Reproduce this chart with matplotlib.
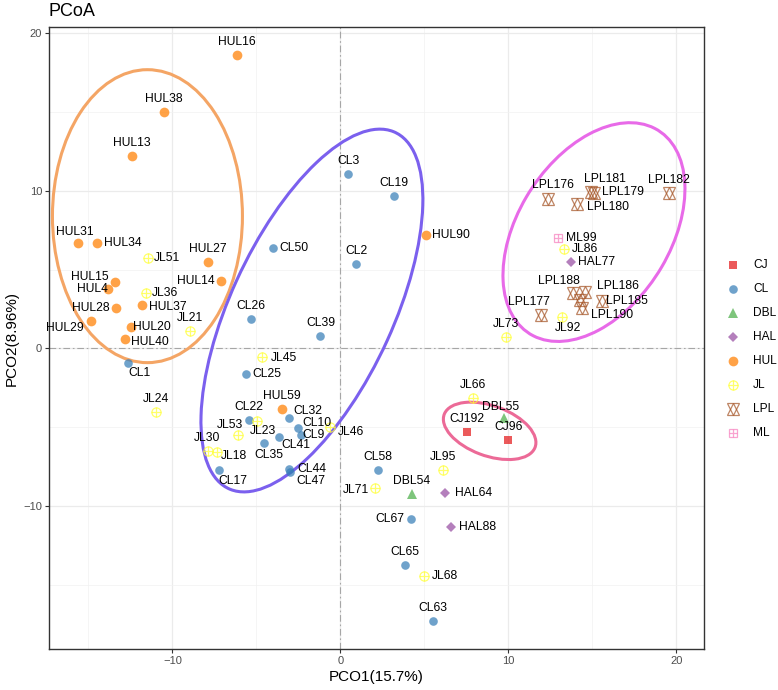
import numpy as np
import matplotlib
matplotlib.use("Agg")
import matplotlib.pyplot as plt
from matplotlib.patches import Ellipse

plt.rcParams['font.family'] = ['Liberation Sans', 'DejaVu Sans']

# ================= DATA =================
names = [
    "HUL16", "HUL38", "HUL13", "HUL31", "HUL34", "HUL27", "HUL15", "HUL4", "HUL14",
    "HUL28", "HUL37", "HUL29", "HUL20", "HUL40", "HUL59", "HUL90",
    "CL1", "CL26", "CL25", "CL39", "CL22", "CL32", "CL10", "CL9", "CL41", "CL35",
    "CL17", "CL44", "CL47", "CL3", "CL19", "CL50", "CL2", "CL58", "CL67", "CL65", "CL63",
    "JL51", "JL36", "JL21", "JL45", "JL24", "JL23", "JL46", "JL53", "JL30", "JL18",
    "JL71", "JL95", "JL68", "JL73", "JL66", "JL86", "JL92",
    "CJ192", "CJ96", "DBL54", "DBL55", "HAL64", "HAL88", "HAL77",
    "LPL176", "LPL181", "LPL179", "LPL180", "LPL182", "LPL188", "LPL186", "",
    "LPL190", "LPL185", "LPL177", "ML99",
]
groups = [
    "HUL", "HUL", "HUL", "HUL", "HUL", "HUL", "HUL", "HUL", "HUL",
    "HUL", "HUL", "HUL", "HUL", "HUL", "HUL", "HUL",
    "CL", "CL", "CL", "CL", "CL", "CL", "CL", "CL", "CL", "CL",
    "CL", "CL", "CL", "CL", "CL", "CL", "CL", "CL", "CL", "CL", "CL",
    "JL", "JL", "JL", "JL", "JL", "JL", "JL", "JL", "JL", "JL",
    "JL", "JL", "JL", "JL", "JL", "JL", "JL",
    "CJ", "CJ", "DBL", "DBL", "HAL", "HAL", "HAL",
    "LPL", "LPL", "LPL", "LPL", "LPL", "LPL", "LPL", "LPL",
    "LPL", "LPL", "LPL", "ML",
]
pco1 = [
    -6.16, -10.49, -12.43, -15.64, -14.51, -7.89, -13.42, -13.84, -7.10,
    -13.35, -11.82, -14.85, -12.49, -12.85, -3.50, 5.11,
    -12.63, -5.35, -5.64, -1.19, -5.43, -3.07, -2.55, -2.35, -3.66, -4.54,
    -7.21, -3.07, -3.01, 0.46, 3.17, -4.04, 0.94, 2.21, 4.18, 3.84, 5.52,
    -11.44, -11.60, -8.96, -4.65, -11.00, -4.99, -0.63, -6.08, -7.87, -7.37,
    2.05, 6.12, 4.97, 9.87, 7.87, 13.32, 13.18,
    7.53, 9.99, 4.24, 9.75, 6.20, 6.56, 13.70,
    12.37, 14.89, 15.09, 14.08, 19.55, 13.86, 14.55, 14.26,
    14.36, 15.55, 11.93, 12.93,
]
pco2 = [
    18.62, 15.00, 12.22, 6.68, 6.68, 5.51, 4.22, 3.78, 4.27,
    2.59, 2.74, 1.73, 1.37, 0.58, -3.84, 7.21,
    -0.90, 1.89, -1.60, 0.81, -4.54, -4.41, -5.03, -5.49, -5.60, -6.02,
    -7.71, -7.65, -7.82, 11.06, 9.70, 6.40, 5.37, -7.73, -10.84, -13.77, -17.30,
    5.77, 3.50, 1.13, -0.51, -4.01, -4.60, -4.97, -5.51, -6.51, -6.59,
    -8.84, -7.71, -14.46, 0.70, -3.12, 6.34, 2.02,
    -5.32, -5.84, -9.24, -4.43, -9.16, -11.35, 5.51,
    9.49, 9.96, 9.89, 9.16, 9.85, 3.50, 3.59, 3.08,
    2.55, 3.02, 2.13, 7.03,
]

group_order = ["CJ", "CL", "DBL", "HAL", "HUL", "JL", "LPL", "ML"]

# ellipses: centre x, centre y, width, height, angle (data units)
ell_cx = [-11.49, -1.70, 15.09, 8.88]
ell_cy = [8.40, 2.41, 7.39, -5.23]
ell_w = [11.31, 24.7, 15.02, 5.80]
ell_h = [18.6, 9.74, 9.20, 3.16]
ell_ang = [0.0, 66.85, 61.2, -21.9]
ell_col = ["#F4A565", "#7B60EE", "#E86AE8", "#EC6A97"]

# =================================================================

COLORS = {"CJ": "#E41A1C", "CL": "#377EB8", "DBL": "#4DAF4A", "HAL": "#984EA3",
          "HUL": "#FF7F00", "JL": "#FFFF33", "LPL": "#A65628", "ML": "#F781BF"}
ALPHA = 0.72

# label offsets in pixels (default: centred above the point)
LABEL_OFF = {
    "HUL31": (-3, 11), "HUL34": (26, 0), "JL51": (19, 0), "HUL15": (-25, 5),
    "HUL4": (-16, 0), "HUL14": (-25, 0), "JL36": (19, 0), "HUL28": (-25, 0),
    "HUL37": (26, -2), "HUL29": (-26, -7), "HUL20": (21, 0), "HUL40": (25, -3),
    "CL1": (11, -10), "JL45": (22, -1), "CL25": (21, 0), "CL32": (19, 7),
    "CL10": (19, 5), "CL9": (13, 0), "JL46": (21, -5), "CL41": (17, -8),
    "CL35": (5, -12), "JL23": (6, -10), "JL53": (-8, 10), "JL30": (-1, 13),
    "JL18": (17, -4), "CL17": (14, -11), "CL44": (23, 0), "CL47": (21, -9),
    "JL71": (-19, -2), "HUL90": (25, 0), "CL50": (21, 0), "HAL64": (29, 0),
    "CL67": (-21, 0), "HAL88": (27, 0), "JL68": (21, 0), "DBL55": (-4, 11),
    "LPL176": (5, 14), "LPL181": (14, 13), "LPL179": (29, 1), "LPL180": (31, -3),
    "ML99": (24, 0), "JL86": (21, 0), "HAL77": (26, 0), "LPL188": (-14, 12),
    "LPL186": (33, 6), "LPL185": (25, 0), "LPL190": (30, -7), "LPL177": (-12, 13),
    "JL92": (6, -11),
}


def draw_marker(axis, xs, ys, grp, scale=1.0):
    c = COLORS[grp]
    kw = dict(ls='none', alpha=ALPHA, clip_on=False)
    if grp == "CJ":
        axis.plot(xs, ys, marker='s', ms=6.0 * scale, color=c, mew=0, **kw)
    elif grp == "CL":
        axis.plot(xs, ys, marker='o', ms=6.2 * scale, color=c, mew=0, **kw)
    elif grp == "DBL":
        axis.plot(xs, ys, marker='^', ms=7.5 * scale, color=c, mew=0, **kw)
    elif grp == "HAL":
        axis.plot(xs, ys, marker='D', ms=4.6 * scale, color=c, mew=0, **kw)
    elif grp == "HUL":
        axis.plot(xs, ys, marker='o', ms=7.0 * scale, color=c, mew=0, **kw)
    elif grp == "JL":
        axis.plot(xs, ys, marker='o', ms=6.6 * scale, mfc='none', mec=c, mew=0.9, **kw)
        axis.plot(xs, ys, marker='+', ms=6.6 * scale, color=c, mew=0.9, **kw)
    elif grp == "LPL":
        axis.plot(xs, ys, marker='^', ms=8.0 * scale, mfc='none', mec=c, mew=0.9, **kw)
        axis.plot(xs, ys, marker='v', ms=8.0 * scale, mfc='none', mec=c, mew=0.9, **kw)
    elif grp == "ML":
        axis.plot(xs, ys, marker='s', ms=6.4 * scale, mfc='none', mec=c, mew=0.9, **kw)
        axis.plot(xs, ys, marker='+', ms=6.4 * scale, color=c, mew=0.9, **kw)


W, H = 778, 690
fig = plt.figure(figsize=(W / 100, H / 100), dpi=100)
ax = fig.add_axes([49 / W, 1 - 649 / H, (704 - 49) / W, (649 - 27) / H])

ax.set_xlim(-17.35, 21.64)
ax.set_ylim(-19.08, 20.41)
ax.set_xticks([-10, 0, 10, 20])
ax.set_yticks([-10, 0, 10, 20])
ax.set_xticks([-15, -5, 5, 15], minor=True)
ax.set_yticks([-15, -5, 5, 15], minor=True)
ax.grid(which='major', color='#EBEBEB', lw=0.9)
ax.grid(which='minor', color='#F2F2F2', lw=0.5)
ax.set_axisbelow(True)
ax.tick_params(which='major', length=3, width=0.8, color='#333333',
               labelcolor='#4D4D4D', labelsize=8, pad=2)
ax.tick_params(which='minor', length=0)
for s in ax.spines.values():
    s.set_color('#333333')
    s.set_linewidth(1.0)

ax.axhline(0, color='#A6A6A6', lw=0.8, ls=(0, (6, 2.5, 1.5, 2.5)), zorder=1)
ax.axvline(0, color='#A6A6A6', lw=0.8, ls=(0, (6, 2.5, 1.5, 2.5)), zorder=1)

# ellipses
for cx, cy, w, h, a, c in zip(ell_cx, ell_cy, ell_w, ell_h, ell_ang, ell_col):
    ax.add_patch(Ellipse((cx, cy), w, h, angle=a, fill=False, ec=c, lw=2.2, zorder=2))

# points
x_arr = np.array(pco1)
y_arr = np.array(pco2)
g_arr = np.array(groups)
for g in group_order:
    m = g_arr == g
    draw_marker(ax, x_arr[m], y_arr[m], g)

# labels
for n, x, y in zip(names, pco1, pco2):
    if not n:
        continue
    dx, dy = LABEL_OFF.get(n, (0, 13))
    ax.annotate(n, (x, y), xytext=(dx, dy), textcoords='offset pixels',
                ha='center', va='center', fontsize=8.7, color='black',
                annotation_clip=False, zorder=5)

ax.set_xlabel('PCO1(15.7%)', fontsize=11, labelpad=3)
ax.set_ylabel('PCO2(8.96%)', fontsize=11, labelpad=3)
fig.text(48 / W, 1 - 11 / H, 'PCoA', fontsize=13, ha='left', va='center')

# legend drawn in its own pixel-space axes
lax = fig.add_axes([706 / W, 0, (W - 706) / W, 1])
lax.set_xlim(706, W)
lax.set_ylim(H, 0)
lax.axis('off')
for i, g in enumerate(group_order):
    yy = 265 + 24 * i
    draw_marker(lax, [733], [yy], g)
    lax.text(753, yy, g, fontsize=8.6, ha='left', va='center')

fig.savefig('out.png', dpi=100)
